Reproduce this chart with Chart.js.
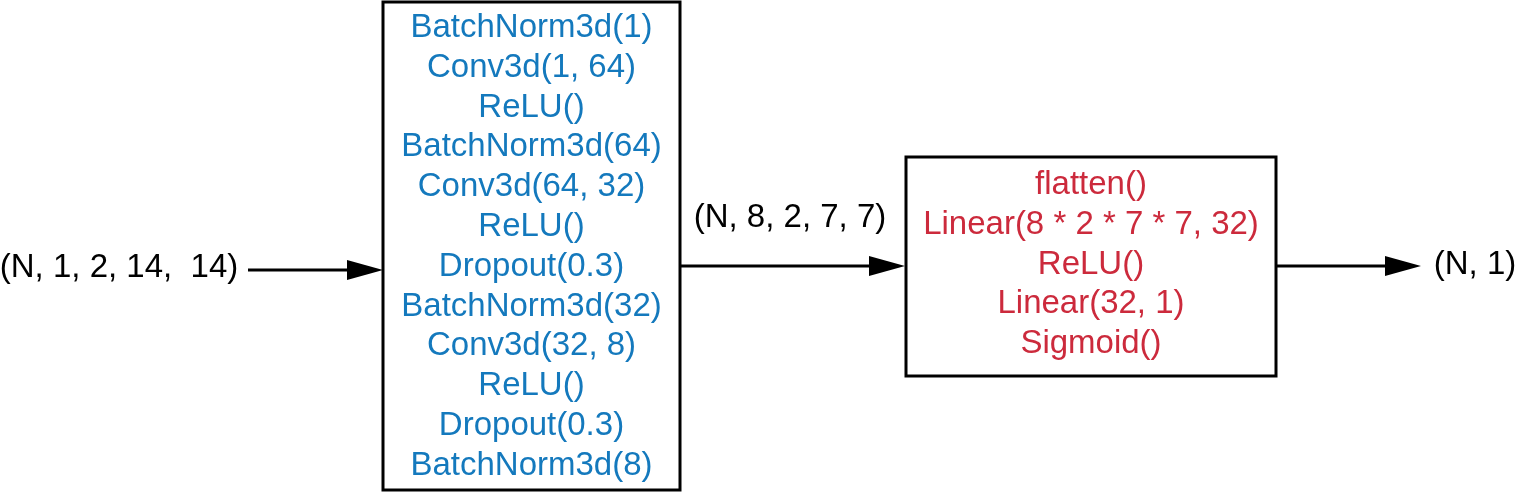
<!DOCTYPE html>
<html>
<head>
<meta charset="utf-8">
<script src="https://cdn.jsdelivr.net/npm/chart.js@4"></script>
<style>
  html, body { margin: 0; padding: 0; background: #fff; }
  canvas { display: block; }
</style>
</head>
<body>
<canvas id="diagram" width="1516" height="493"></canvas>
<script>
/*global Chart */
// text content of the diagram
const encoderLayers = [
  'BatchNorm3d(1)', 'Conv3d(1, 64)', 'ReLU()', 'BatchNorm3d(64)', 'Conv3d(64, 32)', 'ReLU()',
  'Dropout(0.3)', 'BatchNorm3d(32)', 'Conv3d(32, 8)', 'ReLU()', 'Dropout(0.3)', 'BatchNorm3d(8)'
]
const headLayers = ['flatten()', 'Linear(8 * 2 * 7 * 7, 32)', 'ReLU()', 'Linear(32, 1)', 'Sigmoid()']
const shapeLabels = ['(N, 1, 2, 14,  14)', '(N, 8, 2, 7, 7)', '(N, 1)']

// layout, in diagram units (the scales map them to pixels)
const layout = {
  boxes: [
    { x0: 383, x1: 680, y0: 2, y1: 490, firstLine: 28, step: 39.8, color: '#1479bd', lines: encoderLayers },
    { x0: 906, x1: 1276, y0: 157, y1: 376, firstLine: 185, step: 39.8, color: '#cc2a3c', lines: headLayers }
  ],
  arrows: [
    { x0: 248, x1: 383, y: 270 },
    { x0: 680, x1: 905, y: 266 },
    { x0: 1277, x1: 1421, y: 266 }
  ],
  labels: [
    { x: 119, y: 268 },
    { x: 790, y: 218 },
    { x: 1475, y: 265 }
  ]
}

const font = '33px "Liberation Sans", Arial, sans-serif'

const diagramPlugin = {
  id: 'diagram',
  afterDraw(chart) {
    const ctx = chart.ctx
    const px = v => chart.scales.x.getPixelForValue(v)
    const py = v => chart.scales.y.getPixelForValue(v)
    ctx.save()
    ctx.font = font
    ctx.textAlign = 'center'
    ctx.textBaseline = 'middle'

    layout.boxes.forEach(box => {
      ctx.strokeStyle = '#000'
      ctx.lineWidth = 3
      ctx.strokeRect(px(box.x0), py(box.y0), px(box.x1) - px(box.x0), py(box.y1) - py(box.y0))
      ctx.fillStyle = box.color
      const cx = px((box.x0 + box.x1) / 2)
      box.lines.forEach((text, i) => ctx.fillText(text, cx, py(box.firstLine + i * box.step)))
    })

    layout.arrows.forEach(a => {
      const y = py(a.y)
      const x0 = px(a.x0)
      const x1 = px(a.x1)
      ctx.strokeStyle = '#000'
      ctx.lineWidth = 3
      ctx.beginPath()
      ctx.moveTo(x0, y)
      ctx.lineTo(x1 - 30, y)
      ctx.stroke()
      ctx.fillStyle = '#000'
      ctx.beginPath()
      ctx.moveTo(x1, y)
      ctx.lineTo(x1 - 36, y - 10)
      ctx.lineTo(x1 - 36, y + 10)
      ctx.closePath()
      ctx.fill()
    })

    ctx.fillStyle = '#000'
    layout.labels.forEach((l, i) => ctx.fillText(shapeLabels[i], px(l.x), py(l.y)))
    ctx.restore()
  }
}

new Chart(document.getElementById('diagram').getContext('2d'), {
  type: 'scatter',
  data: { datasets: [{ data: [], pointRadius: 0 }] },
  options: {
    responsive: false,
    animation: false,
    layout: { padding: 0 },
    plugins: { legend: { display: false }, tooltip: { enabled: false } },
    scales: {
      x: { type: 'linear', min: 0, max: 1516, display: false },
      y: { type: 'linear', min: 0, max: 493, reverse: true, display: false }
    }
  },
  plugins: [diagramPlugin]
})
</script>
</body>
</html>
